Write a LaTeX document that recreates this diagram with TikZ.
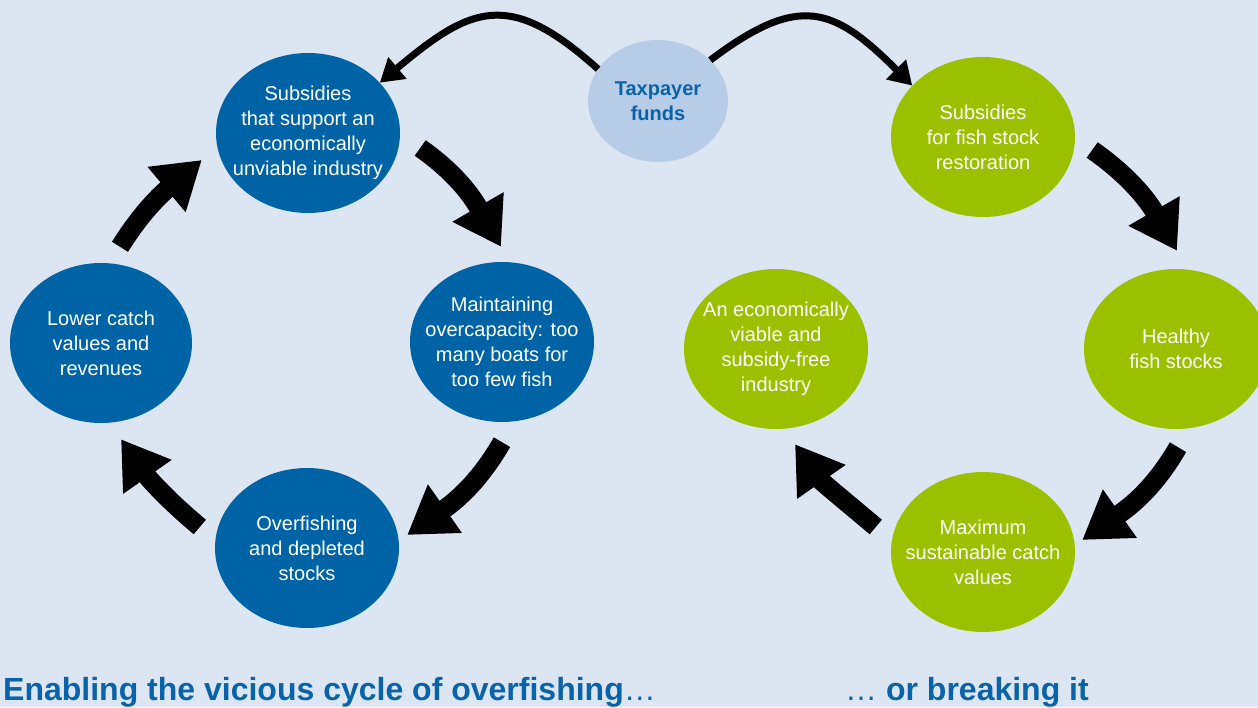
\documentclass[tikz,border=0pt]{standalone}
\usepackage{fontspec}
\setmainfont{Liberation Sans}
\usetikzlibrary{shapes.geometric,arrows.meta}
\definecolor{bgblue}{HTML}{DCE6F3}
\definecolor{badblue}{HTML}{0063A6}
\definecolor{goodgreen}{HTML}{9BC000}
\definecolor{fundblue}{HTML}{B7CCE6}
\definecolor{titleblue}{HTML}{0A62A8}
\begin{document}
\begin{tikzpicture}[x=1pt, y=1pt,
    cyc/.style={ellipse, minimum width=184pt, minimum height=160pt, inner sep=-40pt,
        align=center, text=white, font=\fontsize{20}{25}\selectfont},
    bad/.style={cyc, fill=badblue},
    good/.style={cyc, fill=goodgreen},
    bigarrow/.style={line width=19pt, -{Triangle[width=56pt,length=46pt]}},
    fundarrow/.style={line width=7pt, -{Triangle[width=27pt,length=23pt]}},
    heading/.style={anchor=base west, inner sep=0pt, text=titleblue,
        font=\fontsize{32}{38}\selectfont\bfseries}]
\useasboundingbox (0,0) rectangle (1258,707);
\fill[bgblue] (0,0) rectangle (1258,707);
\clip (0,0) rectangle (1258,707);

% vicious cycle
\node[bad] (sub1) at (308,574) {Subsidies\\that support an\\economically\\unviable industry};
\node[bad] (main1) at (502,365) {Maintaining\\overcapacity: too\\many boats for\\too few fish};
\node[bad] (over1) at (307,159) {Overfishing\\and depleted\\stocks};
\node[bad, minimum width=182pt] (lower1) at (101,364) {Lower catch\\values and\\revenues};

% virtuous cycle
\node[good] (sub2) at (983,570) {Subsidies\\for fish stock\\restoration};
\node[good] (healthy) at (1176,358) {Healthy\\fish stocks};
\node[good] (max) at (983,155) {Maximum\\sustainable catch\\values};
\node[good] (viable) at (776,358) {An economically\\viable and\\subsidy-free\\industry};

\node[ellipse, fill=fundblue, minimum width=140pt, minimum height=122pt, inner sep=-30pt,
    align=center, text=titleblue, font=\fontsize{20}{25}\selectfont\bfseries] (tax) at (658,606) {Taxpayer\\funds};

\draw[fundarrow] (tax.152) to[out=138, in=40, looseness=1.4] (sub1.35);
\draw[fundarrow] (tax.38) to[out=37, in=135, looseness=1.4] (sub2.144);

\draw[bigarrow] ([shift={(20,-15)}]sub1.east) to[out=-35, in=120] ([shift={(-1,15)}]main1.north);
\draw[bigarrow] ([shift={(0,-20)}]main1.south) to[out=-120, in=35] ([shift={(8,13)}]over1.east);
\draw[bigarrow] ([shift={(-15,21)}]over1.west) to[out=140, in=-55] ([shift={(20,-16)}]lower1.south);
\draw[bigarrow] ([shift={(19,16)}]lower1.north) to[out=58, in=-140] ([shift={(-14,-27)}]sub1.west);

\draw[bigarrow] ([shift={(17,-13)}]sub2.east) to[out=-35, in=120] ([shift={(1,18)}]healthy.north);
\draw[bigarrow] ([shift={(2,-18)}]healthy.south) to[out=-120, in=35] ([shift={(7,12)}]max.east);
\draw[bigarrow] ([shift={(-15,25)}]max.west) to[out=140, in=-55] ([shift={(19,-15)}]viable.south);

\node[heading] (title1) at (3,7) {Enabling the vicious cycle of overfishing\mdseries…};
\node[heading] (title2) at (845,7) {\mdseries…\bfseries{} or breaking it};
\end{tikzpicture}
\end{document}
